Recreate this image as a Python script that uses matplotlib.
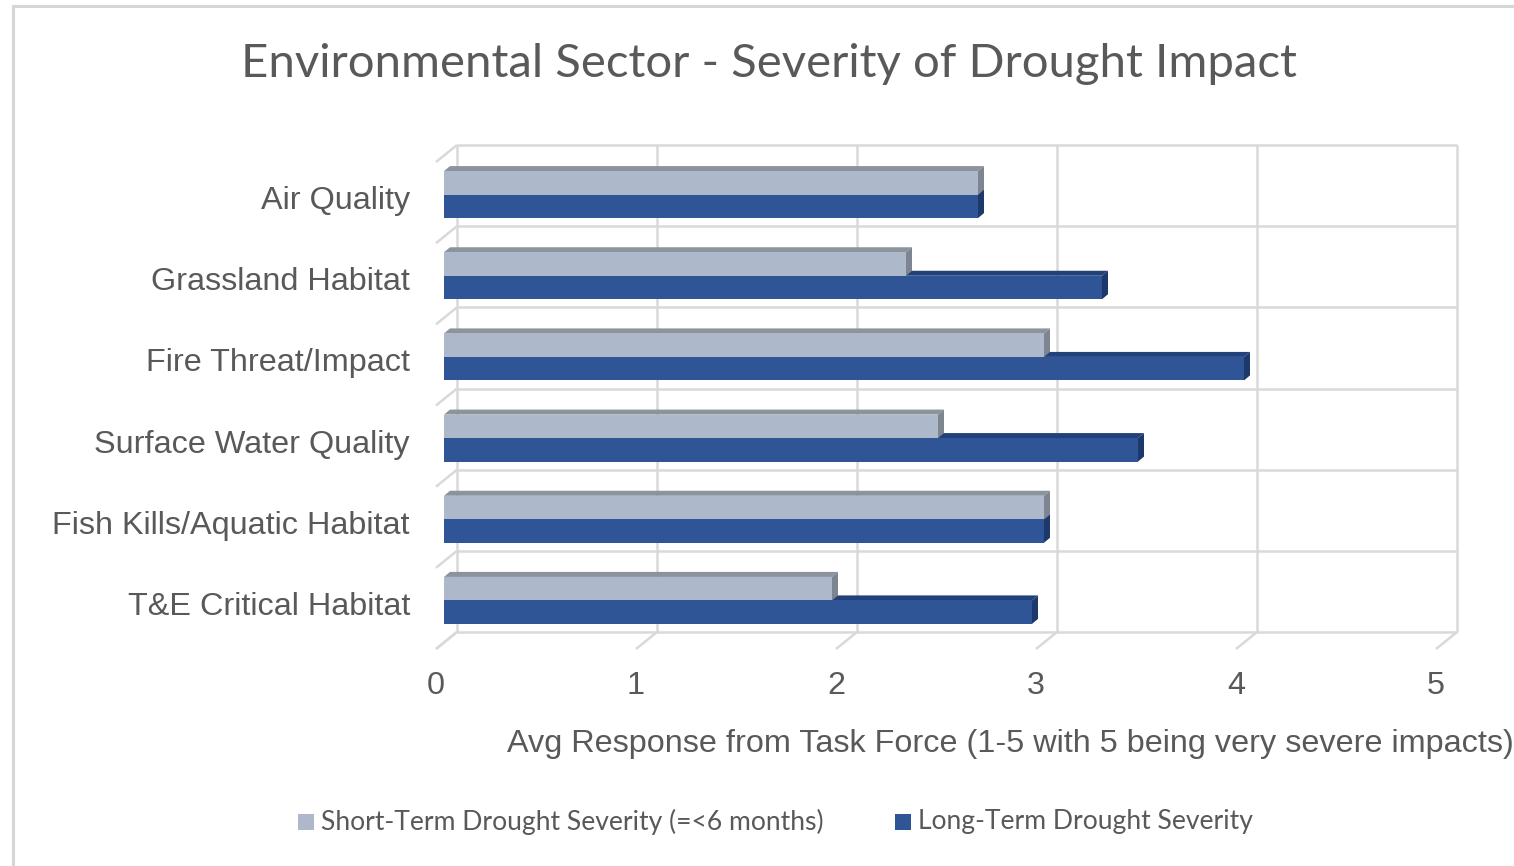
import matplotlib
matplotlib.use("Agg")
import matplotlib.pyplot as plt
from matplotlib.patches import Polygon, Rectangle

# ---- data -------------------------------------------------------------
categories = ["Air Quality", "Grassland Habitat", "Fire Threat/Impact",
              "Surface Water Quality", "Fish Kills/Aquatic Habitat",
              "T&E Critical Habitat"]
short_term = [2.67, 2.31, 3.0, 2.47, 3.0, 1.94]
long_term = [2.67, 3.29, 4.0, 3.47, 3.0, 2.94]
series_names = ["Short-Term Drought Severity (=<6 months)",
                "Long-Term Drought Severity"]
x_ticks = [0, 1, 2, 3, 4, 5]

title = "Environmental Sector - Severity of Drought Impact"
x_label = "Avg Response from Task Force (1-5 with 5 being very severe impacts)"

# ---- styling ----------------------------------------------------------
W, H = 1514, 866
TEXT = "#595959"
GRID = "#d9d9d9"
short_cols = dict(front="#adb9ca", top="#8b939d", side="#7c8590")
long_cols = dict(front="#2f5597", top="#22407a", side="#1d386b")

fig = plt.figure(figsize=(W / 100, H / 100), dpi=100)
fig.patch.set_facecolor("white")


def fpos(x, y):
    """pixel position -> figure fraction"""
    return x / W, 1 - y / H


# outer chart frame
fig.patches.append(Rectangle(fpos(13, 900), (1600) / W, (900 - 6) / H,
                             transform=fig.transFigure, fill=False,
                             edgecolor="#d6d6d6", lw=2.2))

# back wall of the 3-D plot area
left, right, top, bottom = 457, 1457, 145, 632
ax = fig.add_axes([left / W, 1 - bottom / H, (right - left) / W,
                   (bottom - top) / H])
n = len(categories)
ax.set_xlim(x_ticks[0], x_ticks[-1])
ax.set_ylim(n - 0.5, -0.5)
ax.axis("off")

# pixel -> data unit factors (y data grows downward)
sx = (x_ticks[-1] - x_ticks[0]) / (right - left)
sy = n / (bottom - top)


def off(px, py):
    return px * sx, py * sy


FLOOR = off(-21, 17)   # front edge of floor / side wall
FRONT = off(-13, 9)    # front face of the bars
BACK = off(-7, 4)      # rear face of the bars

line_kw = dict(color=GRID, lw=1.8, clip_on=False, solid_capstyle="butt")

# back-wall gridlines
for xt in x_ticks:
    ax.plot([xt, xt], [-0.5, n - 0.5], **line_kw)
for k in range(n + 1):
    ax.plot([x_ticks[0], x_ticks[-1]], [k - 0.5, k - 0.5], **line_kw)
# floor ticks
for xt in x_ticks:
    ax.plot([xt, xt + FLOOR[0]], [n - 0.5, n - 0.5 + FLOOR[1]], **line_kw)
# side-wall ticks
for k in range(n + 1):
    ax.plot([0, FLOOR[0]], [k - 0.5, k - 0.5 + FLOOR[1]], **line_kw)

bar_h = 23.5 * sy


def bar3d(v, y0, y1, cols, z):
    fx, fy = FRONT
    bx, by = BACK
    topface = [(fx, y0 + fy), (v + fx, y0 + fy), (v + bx, y0 + by), (bx, y0 + by)]
    side = [(v + fx, y0 + fy), (v + fx, y1 + fy), (v + bx, y1 + by), (v + bx, y0 + by)]
    ax.add_patch(Polygon(topface, closed=True, facecolor=cols["top"],
                         edgecolor="none", clip_on=False, zorder=z))
    ax.add_patch(Polygon(side, closed=True, facecolor=cols["side"],
                         edgecolor="none", clip_on=False, zorder=z))


for i, (s, l) in enumerate(zip(short_term, long_term)):
    bar3d(l, i, i + bar_h, long_cols, 3)
    bar3d(s, i - bar_h, i, short_cols, 4)

# front faces
ax.barh([i - bar_h / 2 + FRONT[1] for i in range(n)], short_term,
        height=bar_h, left=FRONT[0], color=short_cols["front"],
        edgecolor="none", clip_on=False, zorder=5)
ax.barh([i + bar_h / 2 + FRONT[1] for i in range(n)], long_term,
        height=bar_h, left=FRONT[0], color=long_cols["front"],
        edgecolor="none", clip_on=False, zorder=6)

# category labels
for i, name in enumerate(categories):
    ax.text((410 - left) * sx, i + 15.5 * sy, name, ha="right", va="center",
            fontsize=23.3, family="Liberation Sans", color=TEXT, clip_on=False)

# value axis labels
for xt in x_ticks:
    ax.text(xt + FLOOR[0], n - 0.5 + (686 - bottom) * sy, str(xt),
            ha="center", va="center", fontsize=23.3, family="Liberation Sans",
            color=TEXT, clip_on=False)

fig.text(*fpos(507, 744), x_label, ha="left", va="center", fontsize=23.3,
         family="Liberation Sans", color=TEXT)

fig.text(*fpos(769, 64), title, ha="center", va="center", fontsize=34,
         family="Lato", color=TEXT)

# legend
legend_items = [(298, series_names[0], short_cols["front"]),
                (895, series_names[1], long_cols["front"])]
for x0, label, col in legend_items:
    fig.patches.append(Rectangle(fpos(x0, 830), 16 / W, 16 / H,
                                 transform=fig.transFigure,
                                 facecolor=col, edgecolor="none"))
    fig.text(*fpos(x0 + 23, 822), label, ha="left", va="center",
             fontsize=19.1, family="Lato", color=TEXT)

fig.savefig("out.png", dpi=100, facecolor="white")
